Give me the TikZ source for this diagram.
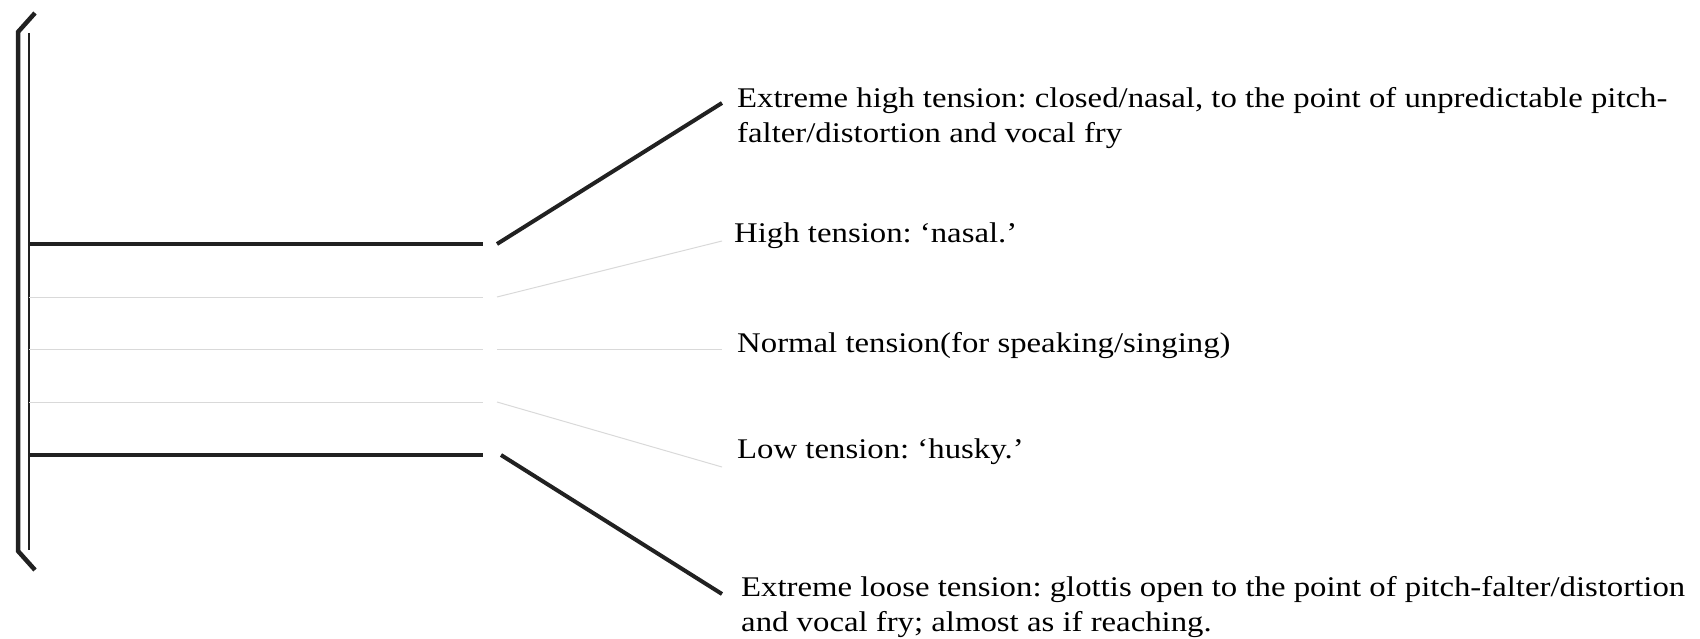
\documentclass[tikz,border=0pt]{standalone}
\usepackage{fontspec}
\setmainfont{Liberation Serif}[FakeStretch=1.15]
\usetikzlibrary{positioning}
\frenchspacing

\begin{document}
\begin{tikzpicture}[x=1pt, y=-1pt,
		heavy/.style={draw=black!87, line width=4pt},
		faint/.style={draw=black!15, line width=1pt},
		tag/.style={anchor=base west, align=left, inner sep=0pt,
			font=\fontsize{28.5}{35}\selectfont}
	]
	\useasboundingbox (0,0) rectangle (1700,639);
	% bracket
	\draw[draw=black!87, line width=4.5pt] (35,13) -- (18,32) -- (18,551) -- (35,570);
	\draw[draw=black!87, line width=2pt] (29,33) -- (29,550);
	% levels
	\foreach \y/\n in {244/a, 297/b, 349/c, 402/d, 455/e} {
		\coordinate (l\n) at (29,\y);
		\coordinate (m\n) at (483,\y);
		\coordinate (r\n) at (497,\y);
	}
	\coordinate (ea) at (722,103);
	\coordinate (eb) at (722,241);
	\coordinate (ec) at (722,349);
	\coordinate (ed) at (722,467);
	\coordinate (ee) at (722,594);
	% labels (base = last line)
	\node[tag] (ta) at (737,143) {Extreme high tension: closed/nasal, to the point of unpredictable pitch-\\falter/distortion and vocal fry};
	\node[tag] (tb) at (734,243) {High tension: ‘nasal.’};
	\node[tag] (tc) at (737,352) {Normal tension(for speaking/singing)};
	\node[tag] (td) at (737,458) {Low tension: ‘husky.’};
	\node[tag] (te) at (741,631) {Extreme loose tension: glottis open to the point of pitch-falter/distortion\\and vocal fry; almost as if reaching.};
	% connectors
	\draw[heavy] (la) -- (ma);
	\draw[heavy] (ra) -- (ea);
	\draw[faint] (lb) -- (mb);
	\draw[faint] (rb) -- (eb);
	\draw[faint] (lc) -- (mc);
	\draw[faint] (rc) -- (ec);
	\draw[faint] (ld) -- (md);
	\draw[faint] (rd) -- (ed);
	\draw[heavy] (le) -- (me);
	\draw[heavy] ([xshift=4pt]re) -- (ee);
\end{tikzpicture}
\end{document}
